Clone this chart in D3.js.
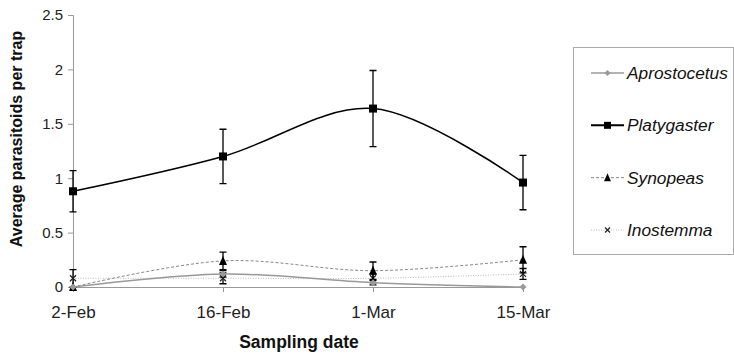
<!DOCTYPE html>
<html>
<head>
<meta charset="utf-8">
<script src="https://cdn.jsdelivr.net/npm/d3@7"></script>
<style>
  body { margin: 0; background: #fff; }
  svg { display: block; font-family: "Liberation Sans", Arial, sans-serif; }
</style>
</head>
<body>
<div id="chart"></div>
<script>
// data
const dates = ["2-Feb", "16-Feb", "1-Mar", "15-Mar"];
const yTicks = [0, 0.5, 1, 1.5, 2, 2.5];

const aprostocetus = [0, 0.12, 0.04, 0];
const aprostocetusErr = [0, 0.03, 0.02, 0];
const platygaster = [0.88, 1.2, 1.64, 0.96];
const platygasterErr = [0.19, 0.25, 0.35, 0.25];
const synopeas = [0, 0.24, 0.15, 0.25];
const synopeasErr = [0, 0.08, 0.08, 0.12];
const inostemma = [0.08, 0.08, 0.08, 0.12];
const inostemmaErr = [0.08, 0.05, 0.04, 0.05];

const series = [
  {name: "Aprostocetus", values: aprostocetus, err: aprostocetusErr, color: "#999", width: 1.5, dash: null, marker: "diamond", mcolor: "#999"},
  {name: "Platygaster", values: platygaster, err: platygasterErr, color: "#000", width: 1.5, dash: null, marker: "square", mcolor: "#000"},
  {name: "Synopeas", values: synopeas, err: synopeasErr, color: "#888", width: 1, dash: "3,2", marker: "triangle", mcolor: "#000"},
  {name: "Inostemma", values: inostemma, err: inostemmaErr, color: "#bbb", width: 1, dash: "1,1.5", marker: "cross", mcolor: "#222"}
];

const W = 734, H = 354;
const svg = d3.select("#chart").append("svg")
  .attr("width", W)
  .attr("height", H);

const x = d3.scalePoint()
  .domain(dates)
  .range([73, 523]);

const y = d3.scaleLinear()
  .domain([0, 2.5])
  .range([287, 15]);

// y axis
const yAxis = svg.append("g")
  .attr("transform", "translate(73,0)")
  .call(d3.axisLeft(y).tickValues(yTicks).tickSize(5).tickPadding(5).tickFormat(d3.format("")));
yAxis.selectAll("line, path").attr("stroke", "#999");
yAxis.selectAll("text")
  .attr("font-size", "15px")
  .attr("fill", "#222")
  .attr("font-family", "Liberation Sans, Arial, sans-serif");

// x axis
const xAxis = svg.append("g")
  .attr("transform", "translate(0,287)")
  .call(d3.axisBottom(x).tickSize(5).tickSizeOuter(0).tickPadding(14));
xAxis.select(".domain").attr("stroke", "#999").attr("d", "M73,0.5H523");
xAxis.selectAll("line").attr("stroke", "#999");
xAxis.selectAll("text")
  .attr("font-size", "17px")
  .attr("fill", "#222")
  .attr("font-family", "Liberation Sans, Arial, sans-serif");

// axis titles
svg.append("text")
  .attr("transform", "translate(22,139) rotate(-90)")
  .attr("text-anchor", "middle")
  .attr("font-size", "16px")
  .attr("font-weight", "bold")
  .attr("fill", "#111")
  .text("Average parasitoids per trap");

svg.append("text")
  .attr("x", 299)
  .attr("y", 348)
  .attr("text-anchor", "middle")
  .attr("font-size", "17.5px")
  .attr("font-weight", "bold")
  .attr("fill", "#111")
  .text("Sampling date");

function drawMarker(g, type, cx, cy, color, s) {
  if (type === "square") {
    g.append("rect").attr("x", cx - s / 2).attr("y", cy - s / 2)
      .attr("width", s).attr("height", s).attr("fill", color);
  } else if (type === "diamond") {
    g.append("path").attr("d", `M${cx},${cy - s / 2}L${cx + s / 2},${cy}L${cx},${cy + s / 2}L${cx - s / 2},${cy}Z`)
      .attr("fill", color);
  } else if (type === "triangle") {
    g.append("path").attr("d", `M${cx},${cy - s / 2 - 1}L${cx + s / 2},${cy + s / 2}L${cx - s / 2},${cy + s / 2}Z`)
      .attr("fill", color);
  } else if (type === "cross") {
    const h = s / 2;
    g.append("path").attr("d", `M${cx - h},${cy - h}L${cx + h},${cy + h}M${cx - h},${cy + h}L${cx + h},${cy - h}`)
      .attr("stroke", color).attr("stroke-width", 1.2).attr("fill", "none");
  }
}

const markerSize = {square: 8, diamond: 7, triangle: 8, cross: 6};

const line = d3.line()
  .x((d, i) => x(dates[i]))
  .y(d => y(d))
  .curve(d3.curveCatmullRom.alpha(0.5));

// draw back series first so Platygaster sits on top
const order = [3, 2, 0, 1];
order.forEach(k => {
  const s = series[k];
  const g = svg.append("g");
  g.append("path")
    .datum(s.values)
    .attr("d", line)
    .attr("fill", "none")
    .attr("stroke", s.color)
    .attr("stroke-width", s.width)
    .attr("stroke-dasharray", s.dash);

  // error bars
  s.values.forEach((v, i) => {
    const e = s.err[i];
    if (e <= 0) return;
    const cx = x(dates[i]);
    const y1 = y(v + e), y0 = y(Math.max(0, v - e));
    g.append("path")
      .attr("d", `M${cx},${y1}V${y0}M${cx - 3.5},${y1}H${cx + 3.5}M${cx - 3.5},${y0}H${cx + 3.5}`)
      .attr("stroke", "#000")
      .attr("stroke-width", 1.3)
      .attr("fill", "none");
  });

  s.values.forEach((v, i) => {
    drawMarker(g, s.marker, x(dates[i]), y(v), s.mcolor, markerSize[s.marker]);
  });
});

// legend
const legend = svg.append("g");
legend.append("rect")
  .attr("x", 573.5)
  .attr("y", 47.5)
  .attr("width", 160)
  .attr("height", 207)
  .attr("fill", "#fff")
  .attr("stroke", "#aaa");

const ly = d3.scalePoint()
  .domain(series.map(d => d.name))
  .range([73, 230]);

series.forEach(s => {
  const cy = ly(s.name);
  legend.append("line")
    .attr("x1", 591).attr("x2", 624)
    .attr("y1", cy).attr("y2", cy)
    .attr("stroke", s.color)
    .attr("stroke-width", s.name === "Platygaster" ? 2 : s.width)
    .attr("stroke-dasharray", s.dash);
  drawMarker(legend, s.marker, 607.5, cy, s.mcolor, markerSize[s.marker] - 1);
  legend.append("text")
    .attr("x", 627)
    .attr("y", cy + 6)
    .attr("font-size", "17.3px")
    .attr("font-style", "italic")
    .attr("fill", "#111")
    .text(s.name);
});
</script>
</body>
</html>
